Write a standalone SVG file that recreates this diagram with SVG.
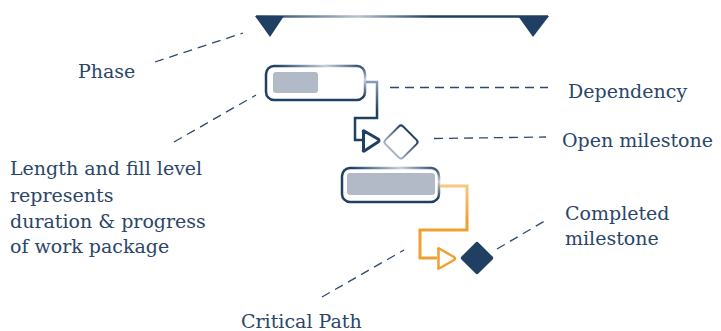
<svg xmlns="http://www.w3.org/2000/svg" width="721" height="331" viewBox="0 0 721 331">
<defs>
<linearGradient id="phaseG" gradientUnits="userSpaceOnUse" x1="256" y1="0" x2="548" y2="0">
<stop offset="0" stop-color="#1f3f63"/><stop offset="0.35" stop-color="#b8c3d0"/><stop offset="0.6" stop-color="#1f3f63"/><stop offset="1" stop-color="#1f3f63"/>
</linearGradient>
<linearGradient id="barG" x1="0" y1="1" x2="1" y2="0">
<stop offset="0" stop-color="#1f3f63"/><stop offset="0.55" stop-color="#1f3f63"/><stop offset="0.8" stop-color="#c9d1db"/><stop offset="1" stop-color="#1f3f63"/>
</linearGradient>
<linearGradient id="dmG" x1="0" y1="0" x2="0" y2="1">
<stop offset="0" stop-color="#1f3f63"/><stop offset="1" stop-color="#aab5c3"/>
</linearGradient>
<linearGradient id="depG" x1="0" y1="0" x2="0" y2="1">
<stop offset="0" stop-color="#8a9cb2"/><stop offset="0.5" stop-color="#1f3f63"/><stop offset="1" stop-color="#1f3f63"/>
</linearGradient>
<linearGradient id="critG" x1="0" y1="0" x2="0" y2="1">
<stop offset="0" stop-color="#f7c880"/><stop offset="0.5" stop-color="#f0a030"/><stop offset="1" stop-color="#f0a030"/>
</linearGradient>
</defs>
<style>
.t{font-family:"DejaVu Serif","Liberation Serif",serif;font-size:19px;fill:#2a4669}
.d{fill:none;stroke:#2c4a6e;stroke-width:1.3;stroke-dasharray:9 6}
.fill{fill:#b1bac6}
</style>
<g id="phase">
<line x1="256" y1="16.5" x2="548" y2="16.5" stroke="url(#phaseG)" stroke-width="2.5"/>
<polygon points="255,16 284,16 270,37" fill="#1f3f63"/>
<polygon points="518,16 549,16 533,37" fill="#1f3f63"/>
</g>
<g id="task1">
<rect x="266" y="66" width="99" height="34" rx="8" fill="#fff" stroke="url(#barG)" stroke-width="2.5"/>
<rect x="273" y="72" width="45" height="21" rx="3" class="fill"/>
</g>
<g id="task2">
<rect x="342" y="168" width="97" height="34" rx="8" fill="#fff" stroke="url(#barG)" stroke-width="2.5"/>
<rect x="347" y="173" width="88" height="22" rx="3" class="fill"/>
</g>
<g id="open-milestone">
<rect x="388.5" y="129.5" width="25" height="25" rx="3" transform="rotate(45 401 142)" fill="#fff" stroke="url(#dmG)" stroke-width="2"/>
</g>
<g id="completed-milestone">
<rect x="465" y="246" width="24" height="24" rx="2" transform="rotate(45 477 258)" fill="#1f3f63"/>
</g>
<g id="connectors">
<path d="M366,82 H377 V118 H355 V140 H362" fill="none" stroke="url(#depG)" stroke-width="2.5"/>
<path d="M363.5,132 Q362.5,130 365,131.5 L378,139 Q380,140.5 378,142 L365,150.5 Q362.5,152 363.5,150 Z" fill="#fff" stroke="#1f3f63" stroke-width="3" stroke-linejoin="round"/>
<path d="M440,186 H467 V230 H420 V258 H437" fill="none" stroke="url(#critG)" stroke-width="3"/>
<path d="M438.5,249.5 Q437.5,247.5 440,249 L454,257 Q456,258.5 454,260 L440,268 Q437.5,269.5 438.5,267.5 Z" fill="#fff" stroke="#f0a030" stroke-width="2.5" stroke-linejoin="round"/>
</g>
<g id="callouts">
<line class="d" x1="155" y1="62" x2="243" y2="33"/>
<line class="d" x1="174" y1="142" x2="256" y2="95"/>
<line class="d" x1="390" y1="87.5" x2="548" y2="87.5"/>
<line class="d" x1="434" y1="138.5" x2="546" y2="137"/>
<line class="d" x1="497" y1="249" x2="548" y2="219"/>
<line class="d" x1="322" y1="297" x2="404" y2="250"/>
</g>
<g id="labels">
<text class="t" x="78" y="78">Phase</text>
<text class="t" x="10" y="175">Length and fill level</text>
<text class="t" x="10" y="202">represents</text>
<text class="t" x="10" y="228">duration &amp; progress</text>
<text class="t" x="10" y="253">of work package</text>
<text class="t" x="568" y="98">Dependency</text>
<text class="t" x="562" y="147">Open milestone</text>
<text class="t" x="565" y="220">Completed</text>
<text class="t" x="565" y="245">milestone</text>
<text class="t" x="241" y="328">Critical Path</text>
</g>
</svg>
